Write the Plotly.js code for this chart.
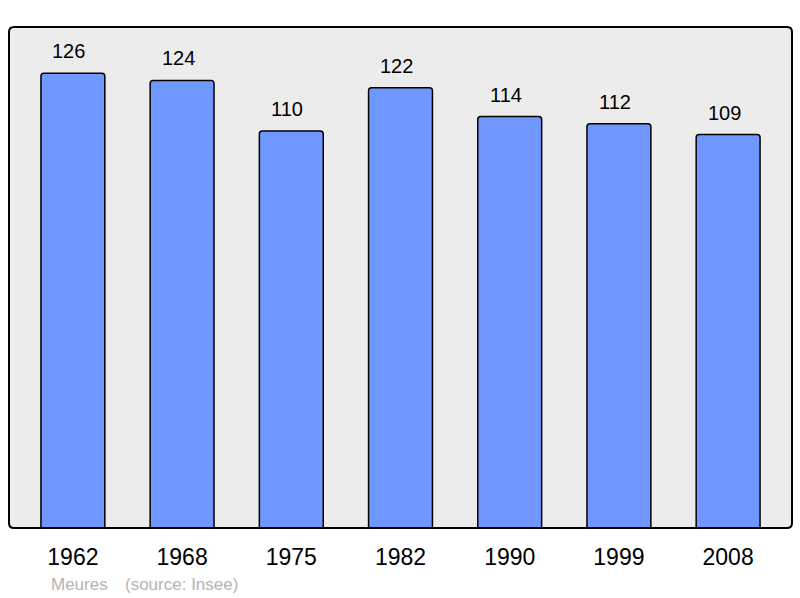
<!DOCTYPE html>
<html>
<head>
<meta charset="utf-8">
<script src="https://cdn.plot.ly/plotly-3.0.1.min.js"></script>
<style>
  html, body { margin: 0; padding: 0; background: #fff; }
  #chart { width: 800px; height: 598px; }
</style>
</head>
<body>
<div id="chart"></div>
<script>
var years = ['1962', '1968', '1975', '1982', '1990', '1999', '2008'];
var population = [126, 124, 110, 122, 114, 112, 109];
var sourceName = 'Meures';
var sourceNote = '(source: Insee)';

var FONT = 'Liberation Sans, Arial, sans-serif';

// value labels above each bar (category index as x position)
var labels = years.map(function (yr, i) {
    return {
        x: i, y: population[i], text: String(population[i]),
        xref: 'x', yref: 'y', yanchor: 'bottom', yshift: 9, xshift: -4,
        showarrow: false,
        font: { family: FONT, size: 20, color: '#000' }
    };
});

labels.push({
    text: sourceName, xref: 'paper', yref: 'paper',
    x: 0.0505, y: -0.112, xanchor: 'left', yanchor: 'middle',
    showarrow: false,
    font: { family: FONT, size: 17, color: '#b4b4b4' }
});
labels.push({
    text: sourceNote, xref: 'paper', yref: 'paper',
    x: 0.146, y: -0.112, xanchor: 'left', yanchor: 'middle',
    showarrow: false,
    font: { family: FONT, size: 17, color: '#b4b4b4' }
});

// plot frame with slightly rounded corners (paper units)
var rx = 5 / 783, ry = 5 / 501;
var framePath = 'M ' + rx + ',0 L ' + (1 - rx) + ',0 Q 1,0 1,' + ry +
    ' L 1,' + (1 - ry) + ' Q 1,1 ' + (1 - rx) + ',1' +
    ' L ' + rx + ',1 Q 0,1 0,' + (1 - ry) +
    ' L 0,' + ry + ' Q 0,0 ' + rx + ',0 Z';

var bars = {
    type: 'bar',
    x: years,
    y: population,
    width: 0.585,
    marker: { color: '#7096ff', line: { color: '#000', width: 1.5 }, cornerradius: 3 },
    hoverinfo: 'x+y'
};

Plotly.newPlot('chart', [bars], {
    width: 800, height: 598,
    margin: { l: 9, r: 8, t: 27, b: 70 },
    paper_bgcolor: '#fff',
    plot_bgcolor: '#ececec',
    showlegend: false,
    xaxis: {
        type: 'category',
        range: [-0.585, 6.585],
        showgrid: false, zeroline: false, showline: false,
        ticks: '', ticklabelstandoff: 13,
        tickfont: { family: FONT, size: 23, color: '#000' }
    },
    yaxis: {
        range: [0, 138.8],
        showgrid: false, zeroline: false, showline: false,
        showticklabels: false, ticks: ''
    },
    shapes: [{
        type: 'path', xref: 'paper', yref: 'paper',
        path: framePath,
        line: { color: '#000', width: 2 }
    }],
    annotations: labels
}, { displayModeBar: false });
</script>
</body>
</html>
